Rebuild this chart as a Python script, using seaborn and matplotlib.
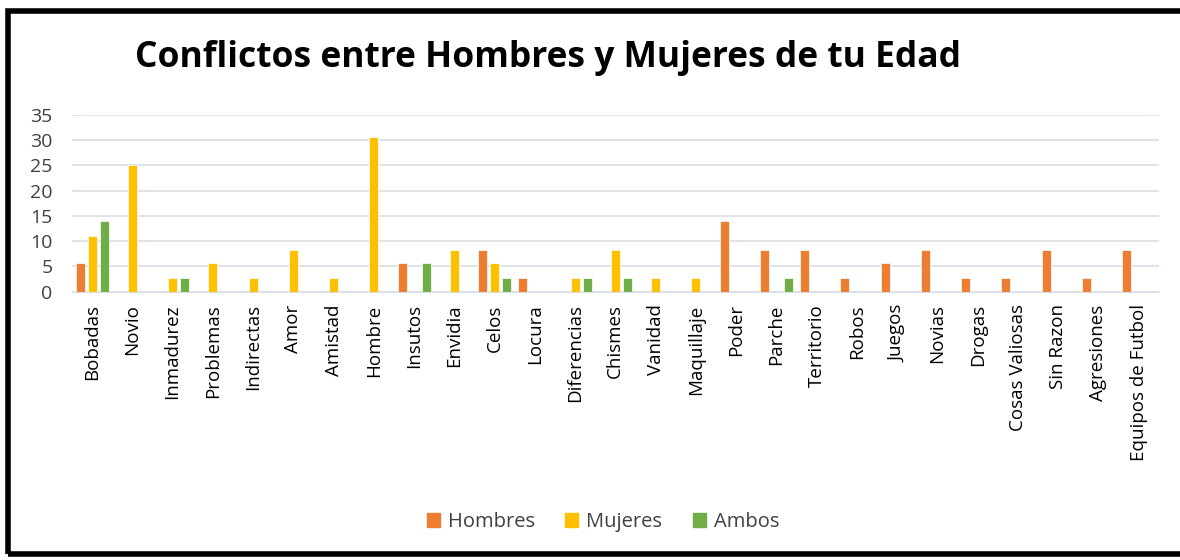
import pandas as pd
import matplotlib
matplotlib.use("Agg")
import matplotlib.pyplot as plt
import seaborn as sns
from matplotlib.patches import Rectangle

# values (percentages)
categorias = ["Bobadas", "Novio", "Inmadurez", "Problemas", "Indirectas", "Amor",
              "Amistad", "Hombre", "Insutos", "Envidia", "Celos", "Locura",
              "Diferencias", "Chismes", "Vanidad", "Maquillaje", "Poder", "Parche",
              "Territorio", "Robos", "Juegos", "Novias", "Drogas", "Cosas Valiosas",
              "Sin Razon", "Agresiones", "Equipos de Futbol"]
hombres = [5.6, 0, 0, 0, 0, 0, 0, 0, 5.6, 0, 8.3, 2.8, 0, 0, 0, 0, 13.9, 8.3,
           8.3, 2.8, 5.6, 8.3, 2.8, 2.8, 8.3, 2.8, 8.3]
mujeres = [11.1, 25.0, 2.8, 5.6, 2.8, 8.3, 2.8, 30.6, 0, 8.3, 5.6, 0, 2.8, 8.3,
           2.8, 2.8, 0, 0, 0, 0, 0, 0, 0, 0, 0, 0, 0]
ambos = [13.9, 0, 2.8, 0, 0, 0, 0, 0, 5.6, 0, 2.8, 0, 2.8, 2.8, 0, 0, 0, 2.8,
         0, 0, 0, 0, 0, 0, 0, 0, 0]
series = ["Hombres", "Mujeres", "Ambos"]
colores = ["#ED7D31", "#FFC000", "#70AD47"]


def main():
    df = pd.DataFrame({"Categoria": categorias, "Hombres": hombres,
                       "Mujeres": mujeres, "Ambos": ambos})
    df = df.melt(id_vars="Categoria", var_name="Grupo", value_name="Valor")

    sns.set_style("white")
    plt.rcParams["font.family"] = ["Open Sans", "DejaVu Sans"]

    fig = plt.figure(figsize=(11.8, 5.6), dpi=100)
    ax = fig.add_axes([0.061, 0.479, 0.921, 0.316])

    sns.barplot(data=df, x="Categoria", y="Valor", hue="Grupo", hue_order=series,
                palette=colores, saturation=1, width=0.9, gap=0.25, ax=ax, legend=False)
    for bar in ax.patches:
        bar.set_edgecolor("#FFFFFF")
        bar.set_linewidth(0.5)

    ax.set_ylim(0, 35)
    ax.set_yticks(range(0, 36, 5))
    ax.set_xlim(-0.5, len(categorias) - 0.5)
    ax.yaxis.grid(True, color="#D9DEE6", linewidth=1.2)
    ax.set_axisbelow(True)
    for s in ["top", "right", "left"]:
        ax.spines[s].set_visible(False)
    ax.spines["bottom"].set_color("#D9DEE6")
    ax.set_xlabel("")
    ax.set_ylabel("")
    ax.tick_params(axis="y", labelsize=14, colors="#404040", length=0, pad=14)
    ax.tick_params(axis="x", labelsize=13.5, length=0, pad=9)
    plt.setp(ax.get_xticklabels(), rotation=90, color="black")

    fig.text(135 / 1180, 1 - 58 / 560, "Conflictos entre Hombres y Mujeres de tu Edad",
             fontsize=25.5, fontweight="bold", ha="left", va="center", color="black")

    handles = [Rectangle((0, 0), 1, 1, color=c) for c in colores]
    fig.legend(handles, series, loc="center", bbox_to_anchor=(0.511, 1 - 522 / 560),
               ncol=3, frameon=False, fontsize=14.5, handlelength=0.65, handleheight=0.65,
               columnspacing=1.5, handletextpad=0.4, labelcolor="#404040")

    # black frame like the screenshot
    fig.patches.append(Rectangle((0.0065, 0.01), 0.995, 0.97, transform=fig.transFigure,
                                 fill=False, edgecolor="black", linewidth=4))

    fig.savefig("out.png", dpi=100)


if __name__ == "__main__":
    main()
